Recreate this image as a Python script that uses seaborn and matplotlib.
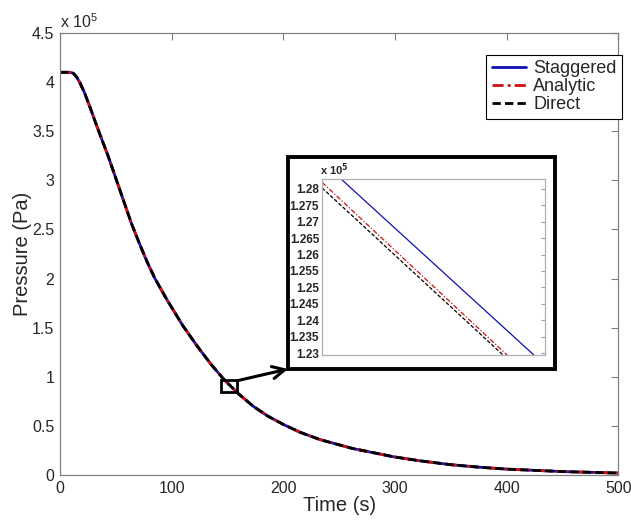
import matplotlib
matplotlib.use('Agg')
import matplotlib.pyplot as plt
import matplotlib.patches as patches
import seaborn as sns
import pandas as pd

# main curves, pressure in units of 1e5 Pa
time_s = [0, 5, 9, 12, 15, 18, 22, 27, 34, 43, 50, 57, 64, 71, 78, 85, 96, 110,
          123, 135, 147, 160, 173, 186, 200, 215, 233, 262, 299, 322, 350, 375,
          400, 450, 500]
p_staggered = [4.10, 4.10, 4.10, 4.09, 4.05, 3.99, 3.89, 3.74, 3.52, 3.25, 3.02,
               2.79, 2.56, 2.36, 2.17, 2.00, 1.78, 1.52, 1.31, 1.13, 0.97, 0.825,
               0.70, 0.60, 0.515, 0.435, 0.36, 0.27, 0.185, 0.145, 0.105, 0.08,
               0.06, 0.035, 0.02]
p_analytic = list(p_staggered)
p_direct = list(p_staggered)

# zoomed view (inset)
inset_time = [125.0, 129.0]
inset_staggered = [1.2883, 1.2263]
inset_analytic = [1.2820, 1.2186]
inset_direct = [1.2803, 1.2176]

series = ['Staggered', 'Analytic', 'Direct']
colors = {'Staggered': '#1010b0', 'Analytic': '#d01010', 'Direct': 'black'}
dashes = {'Staggered': '-', 'Analytic': (0, (4, 1.5, 1, 1.5)), 'Direct': (0, (3, 1.5))}

sns.set_style('white')
plt.rcParams['font.family'] = ['Liberation Sans', 'DejaVu Sans']
plt.rcParams['mathtext.fontset'] = 'custom'
plt.rcParams['mathtext.rm'] = 'Liberation Sans'

fig = plt.figure(figsize=(6.31, 5.2), dpi=100)
ax = fig.add_axes([0.0951, 0.0865, 0.885, 0.85])

main = {'Staggered': p_staggered, 'Analytic': p_analytic, 'Direct': p_direct}
for name in series:
    df = pd.DataFrame({'t': time_s, 'p': main[name]})
    sns.lineplot(x='t', y='p', data=df, ax=ax, color=colors[name], lw=2,
                 linestyle=dashes[name], label=name)

ax.set_xlim(0, 500)
ax.set_ylim(0, 4.5)
ax.set_xticks(range(0, 501, 100))
ax.set_yticks([0, 0.5, 1, 1.5, 2, 2.5, 3, 3.5, 4, 4.5])
ax.set_yticklabels(['0', '0.5', '1', '1.5', '2', '2.5', '3', '3.5', '4', '4.5'])
ax.tick_params(direction='in', length=5, width=0.8, color='#808080',
               labelsize=11.5, top=True, right=True, pad=4)
for s in ax.spines.values():
    s.set_color('#808080')
    s.set_linewidth(0.9)
ax.set_xlabel('Time (s)', fontsize=14.5, labelpad=0)
ax.set_ylabel('Pressure (Pa)', fontsize=14.5, labelpad=0)
ax.text(0.0, 1.004, r'x 10$^{5}$', transform=ax.transAxes, fontsize=11.5,
        ha='left', va='bottom')

leg = ax.legend(loc='upper right', bbox_to_anchor=(622 / 631, 465 / 520),
                bbox_transform=fig.transFigure, borderaxespad=0, fontsize=13,
                handlelength=1.9, labelspacing=0.05, handletextpad=0.4,
                borderpad=0.3, fancybox=False, framealpha=1)
leg.get_frame().set_edgecolor('black')
leg.get_frame().set_linewidth(0.8)

# zoom box on the main curve and arrow to the inset
ax.add_patch(patches.Rectangle((144, 0.847), 14.6, 0.122, fill=False,
                               edgecolor='black', lw=2, zorder=5))
ax.annotate('', xy=(288 / 631, 151 / 520), xycoords='figure fraction',
            xytext=(158.6, 0.96), textcoords='data',
            arrowprops=dict(arrowstyle='->', lw=2.2, color='black',
                            mutation_scale=22, shrinkA=0, shrinkB=0))

# inset frame
fig.add_artist(patches.Rectangle((288 / 631, 151 / 520), 267 / 631, 212 / 520,
                                 transform=fig.transFigure, facecolor='white',
                                 edgecolor='black', lw=2.8, zorder=1))

ins = fig.add_axes([322 / 631, 165 / 520, 223 / 631, 176 / 520], zorder=2)
inset = {'Staggered': inset_staggered, 'Analytic': inset_analytic, 'Direct': inset_direct}
for name in series:
    df = pd.DataFrame({'t': inset_time, 'p': inset[name]})
    sns.lineplot(x='t', y='p', data=df, ax=ins, color=colors[name], lw=0.9,
                 linestyle=dashes[name], legend=False)
ins.set_xlim(125, 129)
ins.set_ylim(1.2294, 1.283)
ins.set_yticks([1.23, 1.235, 1.24, 1.245, 1.25, 1.255, 1.26, 1.265, 1.27, 1.275, 1.28])
ins.set_yticklabels(['1.23', '1.235', '1.24', '1.245', '1.25', '1.255', '1.26',
                     '1.265', '1.27', '1.275', '1.28'], fontweight='bold')
ins.set_xticks([])
ins.set_xlabel('')
ins.set_ylabel('')
ins.tick_params(axis='y', direction='in', length=3, color='#a0a0a0',
                labelsize=8.5, right=True, pad=2)
for s in ins.spines.values():
    s.set_color('#b0b0b0')
    s.set_linewidth(0.9)
ins.text(-0.01, 1.005, r'x 10$^{\mathbf{5}}$', transform=ins.transAxes, fontsize=8,
         fontweight='bold', ha='left', va='bottom')

fig.savefig('out.png', dpi=100)
